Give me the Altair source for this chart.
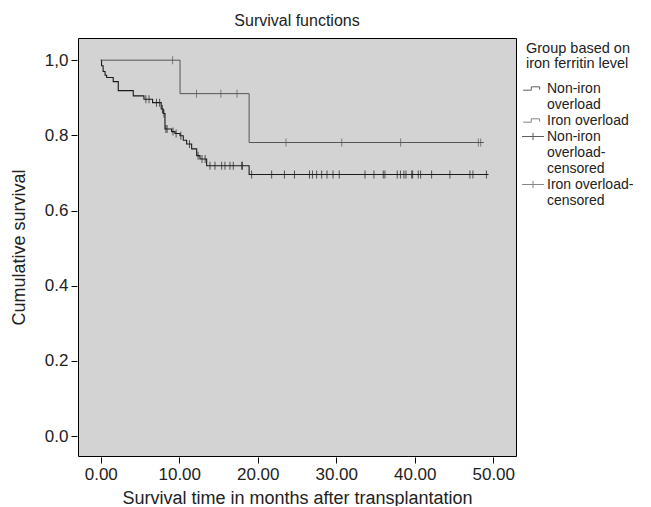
import altair as alt
import pandas as pd

# ---- data ----
# Non-iron overload (lower curve): step times (months) and cumulative survival
lower_t = [0, 0.1, 0.3, 0.55, 0.75, 1.59, 2.23, 4.14, 5.5, 6.6, 7.7, 7.95, 8.18, 9.03, 9.45,
           10.1, 10.51, 10.94, 11.58, 12.22, 12.64, 13.49, 18.9, 49.4]
lower_s = [1.0, 0.985, 0.97, 0.96, 0.954, 0.943, 0.919, 0.905, 0.896, 0.887, 0.870, 0.858, 0.817,
           0.810, 0.805, 0.799, 0.787, 0.777, 0.764, 0.746, 0.737, 0.719, 0.696, 0.696]
lower_cens = [5.75, 6.15, 7.1, 7.5, 7.85, 8.05, 8.3, 8.45, 9.2, 9.6, 10.2, 11.3, 12.4, 12.9, 13.3,
              13.91, 14.55, 15.4, 15.82, 16.46, 16.88, 17.95, 18.05, 19.22, 21.77, 23.4, 24.68,
              26.59, 26.97, 27.5, 28.14, 28.82, 29.59, 30.38, 33.66, 34.8, 35.99, 36.2, 37.77,
              38.18, 38.62, 38.88, 39.61, 39.73, 40.45, 40.75, 42.15, 44.48, 47.03, 47.41, 49.13]

# Iron overload (upper curve)
upper_t = [0, 10.1, 18.9, 48.8]
upper_s = [1.0, 0.911, 0.781, 0.781]
upper_cens = [9.15, 12.2, 15.3, 17.35, 23.6, 30.7, 38.2, 48.1, 48.4]

entries = ["Non-iron overload", "Iron overload", "Non-iron overload-censored", "Iron overload-censored"]
x_ticks = [0, 10, 20, 30, 40, 50]
y_ticks = [0.0, 0.2, 0.4, 0.6, 0.8, 1.0]


def level_at(ts, ss, t):
    v = ss[0]
    for a, b in zip(ts, ss):
        if a <= t:
            v = b
    return v


lower_df = pd.DataFrame({"time": lower_t, "surv": lower_s})
upper_df = pd.DataFrame({"time": upper_t, "surv": upper_s})
cens = pd.DataFrame(
    [{"time": t, "surv": level_at(lower_t, lower_s, t), "group": "Non-iron overload"} for t in lower_cens]
    + [{"time": t, "surv": level_at(upper_t, upper_s, t), "group": "Iron overload"} for t in upper_cens]
)
legend_df = pd.DataFrame({"entry": entries, "time": [0.0] * 4, "surv": [0.0] * 4})

FONT = "Liberation Sans"
col_lower = "#1a1a1a"
col_upper = "#555555"

xsc = alt.Scale(domain=[-2.9, 52.9], nice=False, zero=False)
ysc = alt.Scale(domain=[-0.053, 1.059], nice=False, zero=False)

x_enc = alt.X("time:Q", scale=xsc,
              axis=alt.Axis(values=x_ticks, format=".2f", title="Survival time in months after transplantation",
                            grid=False, domain=False, tickSize=6, offset=1, labelPadding=3,
                            labelFontSize=17, titleFontSize=18, titleFontWeight="normal",
                            labelFont=FONT, titleFont=FONT, tickColor="black", labelColor="#222",
                            titleColor="#222", titlePadding=7))
y_enc = alt.Y("surv:Q", scale=ysc,
              axis=alt.Axis(values=y_ticks, title="Cumulative survival", grid=False, domain=False,
                            labelExpr="datum.value == 1 ? '1,0' : format(datum.value, '.1f')",
                            tickSize=6, offset=1, labelPadding=3, labelFontSize=17, titleFontSize=18,
                            titleFontWeight="normal", labelFont=FONT, titleFont=FONT, tickColor="black",
                            labelColor="#222", titleColor="#222", titlePadding=16))

lower_line = alt.Chart(lower_df).mark_line(interpolate="step-after", strokeWidth=1.1, color=col_lower).encode(
    x=x_enc, y=y_enc)
upper_line = alt.Chart(upper_df).mark_line(interpolate="step-after", strokeWidth=1, color=col_upper).encode(
    x="time:Q", y="surv:Q")

tick_layer = alt.Chart(cens).mark_tick(orient="vertical", size=8, thickness=1).encode(
    x="time:Q", y="surv:Q",
    color=alt.Color("group:N", scale=alt.Scale(domain=["Non-iron overload", "Iron overload"],
                                               range=[col_lower, col_upper]), legend=None),
)

# legend glyphs (unit = 6px for symbolSize 144)
step_path = "M-1.65,0.28L-0.28,0.28L-0.28,-0.28L1.1,-0.28L1.1,0.18"
cross_path = "M-1.83,0L1.83,0M0,-0.6L0,0.6"

label_expr = ("datum.label == 'Non-iron overload' ? ['Non-iron', 'overload'] : "
              "datum.label == 'Iron overload' ? 'Iron overload' : "
              "datum.label == 'Non-iron overload-censored' ? ['Non-iron', 'overload-', 'censored'] : "
              "['Iron overload-', 'censored']")
leg_title = ["Group based on", "iron ferritin level"]

legend_layer = alt.Chart(legend_df).transform_filter("datum.time > 1000").mark_point(
    filled=False, strokeWidth=1
).encode(
    x="time:Q", y="surv:Q",
    shape=alt.Shape("entry:N", scale=alt.Scale(domain=entries,
                                               range=[step_path, step_path, cross_path, cross_path]),
                    legend=alt.Legend(title=leg_title, labelExpr=label_expr)),
    stroke=alt.Stroke("entry:N", scale=alt.Scale(domain=entries,
                                                 range=[col_lower, col_upper, col_lower, col_upper]),
                      legend=alt.Legend(title=leg_title, labelExpr=label_expr)),
)

chart = alt.layer(lower_line, upper_line, tick_layer, legend_layer).properties(
    width=438, height=418,
    title=alt.TitleParams("Survival functions", fontSize=16, font=FONT, fontWeight="normal",
                          color="#222", offset=9),
    autosize=alt.AutoSizeParams(type="none"),
    padding={"left": 70, "top": 30, "right": 127, "bottom": 50},
).configure_view(
    fill="#d3d3d3", stroke="black", strokeWidth=1
).configure_legend(
    orient="right", offset=6, labelFont=FONT, titleFont=FONT, labelFontSize=14, titleFontSize=14.5,
    titleFontWeight="normal", titleColor="#222", labelColor="#222", symbolSize=144,
    symbolStrokeWidth=1, rowPadding=2, labelOffset=7, titlePadding=10, labelLimit=200,
    titleLimit=200, titleLineHeight=15, padding=4
)

chart.save("out.html", embed_options={"renderer": "svg", "actions": False})
